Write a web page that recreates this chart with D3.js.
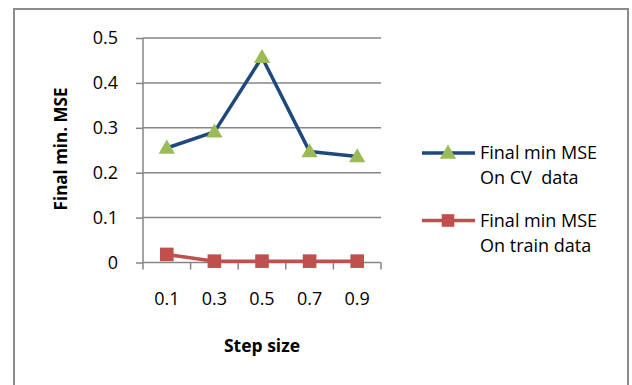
<!DOCTYPE html>
<html>
<head>
<meta charset="utf-8">
<script src="https://cdn.jsdelivr.net/npm/d3@7"></script>
<style>
  html, body { margin: 0; padding: 0; background: #fff; }
  svg { display: block; }
  text { font-family: "Open Sans", Lato, sans-serif; fill: #000; white-space: pre; }
</style>
</head>
<body>
<script>
// Step sizes and final minimum MSE per step size
const stepSizes = ["0.1", "0.3", "0.5", "0.7", "0.9"];
const cvMSE = [0.255, 0.291, 0.457, 0.247, 0.236];
const trainMSE = [0.018, 0.003, 0.003, 0.003, 0.003];
const yTicks = [0, 0.1, 0.2, 0.3, 0.4, 0.5];
const seriesNames = [["Final min MSE", "On CV  data"], ["Final min MSE", "On train data"]];

const W = 632, H = 385;
const FONT = "'Open Sans', Lato, sans-serif";
const svg = d3.select("body").append("svg").attr("width", W).attr("height", H);

// outer chart frame
svg.append("rect")
  .attr("x", 14).attr("y", 9).attr("width", 614).attr("height", 400)
  .attr("fill", "#fff").attr("stroke", "#8c8c8c").attr("stroke-width", 2);

const plot = { left: 143, right: 381, top: 38, bottom: 262.5 };

const x = d3.scaleBand().domain(stepSizes).range([plot.left, plot.right]);
const y = d3.scaleLinear().domain([0, 0.5]).range([plot.bottom, plot.top]);

const grid = "#868686";

// horizontal gridlines
svg.append("g").selectAll("line").data(yTicks.filter(d => d > 0)).join("line")
  .attr("x1", plot.left).attr("x2", plot.right)
  .attr("y1", d => y(d)).attr("y2", d => y(d))
  .attr("stroke", grid).attr("stroke-width", 1.5);

// y axis
const yAxis = svg.append("g").attr("transform", `translate(${plot.left},0)`)
  .call(d3.axisLeft(y).tickValues(yTicks).tickFormat(d => d === 0 ? "0" : d3.format(".1f")(d)).tickSize(7).tickPadding(18));
yAxis.select(".domain").attr("stroke", grid).attr("stroke-width", 1.5).attr("d", `M0,${plot.top}V${plot.bottom}`);
yAxis.selectAll(".tick line").attr("stroke", grid).attr("stroke-width", 1.5);
yAxis.selectAll(".tick text").attr("font-size", 18).attr("font-family", FONT).attr("fill", "#000");

// x axis
const xAxis = svg.append("g").attr("transform", `translate(0,${plot.bottom})`)
  .call(d3.axisBottom(x).tickSize(0).tickPadding(30));
xAxis.select(".domain").attr("stroke", grid).attr("stroke-width", 1.5).attr("d", `M${plot.left},0H${plot.right}`);
xAxis.selectAll(".tick text").attr("font-size", 18).attr("font-family", FONT).attr("fill", "#000");
// tick marks between categories
const bounds = stepSizes.map(d => x(d)).concat([plot.right]);
xAxis.append("g").selectAll("line").data(bounds).join("line")
  .attr("x1", d => d).attr("x2", d => d).attr("y1", 0).attr("y2", 7)
  .attr("stroke", grid).attr("stroke-width", 1.5);

// axis titles
svg.append("text")
  .attr("transform", `translate(67,149) rotate(-90)`)
  .attr("text-anchor", "middle").attr("font-size", 17).attr("font-weight", "bold")
  .text("Final min. MSE");
svg.append("text")
  .attr("x", 262).attr("y", 352)
  .attr("text-anchor", "middle").attr("font-size", 17.5).attr("font-weight", "bold")
  .text("Step size");

const cx = d => x(d) + x.bandwidth() / 2;
const line = d3.line().x(d => cx(d[0])).y(d => y(d[1]));

const blue = "#1F497D", green = "#9BBB59", red = "#C0504D";
const triangle = d3.symbol().type(d3.symbolTriangle).size(115);
const square = d3.symbol().type(d3.symbolSquare).size(185);

// CV series
svg.append("path").datum(stepSizes.map((s, i) => [s, cvMSE[i]]))
  .attr("d", line).attr("fill", "none").attr("stroke", blue).attr("stroke-width", 3.5).attr("stroke-linejoin", "round");
svg.append("g").selectAll("path").data(stepSizes.map((s, i) => [s, cvMSE[i]])).join("path")
  .attr("d", triangle).attr("fill", green)
  .attr("transform", d => `translate(${cx(d[0])},${y(d[1]) + 1})`);

// train series
svg.append("path").datum(stepSizes.map((s, i) => [s, trainMSE[i]]))
  .attr("d", line).attr("fill", "none").attr("stroke", red).attr("stroke-width", 3.5).attr("stroke-linejoin", "round");
svg.append("g").selectAll("path").data(stepSizes.map((s, i) => [s, trainMSE[i]])).join("path")
  .attr("d", square).attr("fill", red)
  .attr("transform", d => `translate(${cx(d[0])},${y(d[1])})`);

// legend
const legend = [
  { y: 153, color: blue, marker: triangle, mfill: green, names: seriesNames[0] },
  { y: 220.5, color: red, marker: square, mfill: red, names: seriesNames[1] }
];
const lg = svg.append("g").selectAll("g").data(legend).join("g");
lg.append("line").attr("x1", 422).attr("x2", 475).attr("y1", d => d.y).attr("y2", d => d.y)
  .attr("stroke", d => d.color).attr("stroke-width", 3.5);
lg.append("path").attr("d", d => d.marker === square ? d3.symbol().type(d3.symbolSquare).size(160)() : d.marker())
  .attr("fill", d => d.mfill)
  .attr("transform", d => `translate(448,${d.y + (d.marker === triangle ? 1 : 0)})`);
lg.append("text").attr("x", 480).attr("y", d => d.y + 6).attr("font-size", 18)
  .text(d => d.names[0]);
lg.append("text").attr("x", 480).attr("y", d => d.y + 31).attr("font-size", 18)
  .text(d => d.names[1]);
</script>
</body>
</html>
